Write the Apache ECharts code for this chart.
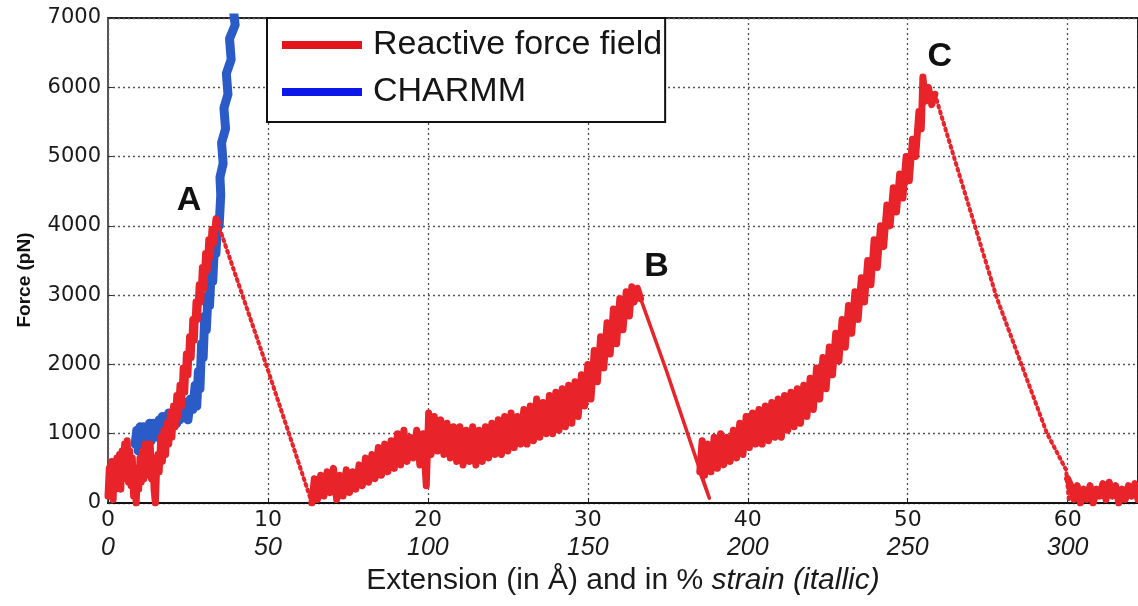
<!DOCTYPE html>
<html>
<head>
<meta charset="utf-8">
<script src="https://cdn.jsdelivr.net/npm/echarts@6/dist/echarts.min.js"></script>
<style>
html,body{margin:0;padding:0;background:#fff;}
#chart{width:1138px;height:606px;}
</style>
</head>
<body>
<div id="chart"></div>
<script>
// ---------------- DATA ----------------
var xTicks = [0, 10, 20, 30, 40, 50, 60];
var strainTicks = ['0', '50', '100', '150', '200', '250', '300'];
var yTicks = [0, 1000, 2000, 3000, 4000, 5000, 6000, 7000];

// Reactive force field: rise to peak A
var reactiveRiseA = [
  [0,100],[0.08,500],[0.16,150],[0.24,600],[0.32,50],[0.4,550],[0.48,200],[0.56,650],[0.64,250],[0.72,700],
  [0.8,200],[0.88,750],[0.96,350],[1.04,850],[1.12,400],[1.2,900],[1.28,300],[1.36,750],[1.44,250],[1.52,650],
  [1.6,100],[1.68,500],[1.76,0],[1.84,450],[1.92,200],[2.0,650],[2.08,300],[2.16,750],[2.24,350],[2.32,850],
  [2.4,400],[2.48,800],[2.56,450],[2.64,850],[2.72,350],[2.8,650],[2.88,200],[2.96,0],[3.04,500],[3.12,700],
  [3.2,450],[3.3,950],[3.4,600],[3.5,1050],[3.6,700],[3.7,1150],[3.8,850],[3.9,1300],[4.0,950],[4.1,1400],
  [4.2,1100],[4.3,1550],[4.4,1250],[4.5,1700],[4.6,1400],[4.7,1950],[4.8,1600],[4.9,2150],[5.0,1850],[5.1,2400],
  [5.2,2100],[5.3,2650],[5.4,2350],[5.5,2900],[5.6,2650],[5.7,3150],[5.8,2900],[5.9,3400],[6.0,3100],[6.1,3600],
  [6.2,3350],[6.3,3800],[6.4,3550],[6.5,3950],[6.6,3750],[6.75,4100],[6.85,4050]
];
// rupture after A (sparse, dotted)
var reactiveDropA = [[6.85,4050],[9.94,1960],[12.75,0]];
// plateau and rise to peak B
var reactiveRiseB = [
  [12.75,0],[12.9,350],[13.1,50],[13.3,400],[13.5,100],[13.7,450],[13.9,150],[14.1,500],[14.3,50],[14.5,400],
  [14.7,100],[14.9,480],[15.1,150],[15.3,450],[15.5,200],[15.7,550],[15.9,250],[16.1,650],[16.3,300],[16.5,700],
  [16.7,350],[16.9,800],[17.1,400],[17.3,850],[17.5,450],[17.7,900],[17.9,500],[18.1,1000],[18.3,550],[18.5,1050],
  [18.7,600],[18.9,950],[19.1,650],[19.3,1050],[19.5,550],[19.7,1000],[19.9,250],[20.05,1300],[20.2,700],[20.4,1250],
  [20.6,750],[20.8,1200],[21.0,700],[21.2,1150],[21.4,650],[21.6,1100],[21.8,600],[22.0,1100],[22.2,550],[22.4,1050],
  [22.6,600],[22.8,1100],[23.0,550],[23.2,1050],[23.4,600],[23.6,1100],[23.8,650],[24.0,1150],[24.2,700],[24.4,1200],
  [24.6,700],[24.8,1250],[25.0,750],[25.2,1300],[25.4,800],[25.6,1250],[25.8,850],[26.0,1350],[26.2,850],[26.4,1400],
  [26.6,900],[26.8,1500],[27.0,950],[27.2,1450],[27.4,1000],[27.6,1550],[27.8,1000],[28.0,1600],[28.2,1050],[28.4,1650],
  [28.6,1100],[28.8,1700],[29.0,1150],[29.2,1750],[29.4,1250],[29.6,1850],[29.8,1400],[30.0,2000],[30.2,1500],[30.4,2200],
  [30.6,1750],[30.8,2400],[31.0,1950],[31.2,2600],[31.4,2150],[31.6,2800],[31.8,2300],[32.0,2950],[32.2,2500],[32.4,3050],
  [32.6,2700],[32.75,3120],[32.9,2900],[33.1,3100],[33.3,2950]
];
// rupture after B (solid)
var reactiveDropB = [[33.3,2950],[34.9,1920],[37.6,70],[37.0,450]];
// rise to peak C
var reactiveRiseC = [
  [37.0,450],[37.15,900],[37.3,400],[37.5,850],[37.7,450],[37.9,950],[38.1,500],[38.3,1000],[38.5,550],[38.7,950],
  [38.9,600],[39.1,1050],[39.3,650],[39.5,1150],[39.7,700],[39.9,1250],[40.1,800],[40.3,1300],[40.5,850],[40.7,1350],
  [40.9,850],[41.1,1400],[41.3,900],[41.5,1450],[41.7,950],[41.9,1500],[42.1,950],[42.3,1550],[42.5,1050],[42.7,1600],
  [42.9,1100],[43.1,1650],[43.3,1150],[43.5,1700],[43.7,1250],[43.9,1800],[44.1,1350],[44.3,1950],[44.5,1500],[44.7,2100],
  [44.9,1650],[45.1,2250],[45.3,1850],[45.5,2450],[45.7,2050],[45.9,2650],[46.1,2250],[46.3,2850],[46.5,2450],[46.7,3050],
  [46.9,2650],[47.1,3250],[47.3,2900],[47.5,3500],[47.7,3150],[47.9,3800],[48.1,3400],[48.3,4000],[48.5,3700],[48.7,4300],
  [48.9,4000],[49.1,4550],[49.3,4200],[49.5,4750],[49.7,4400],[49.9,5000],[50.1,4650],[50.3,5250],[50.5,5000],[50.7,5650],
  [50.85,5400],[50.95,6150],[51.1,5800],[51.3,6000],[51.5,5750],[51.7,5900]
];
// rupture after C (sparse, dotted)
var reactiveDropC = [[51.7,5900],[55.55,2975],[58.7,1010],[59.9,480],[60.1,0]];
// tail after C
var reactiveTail = [
  [60.0,350],[60.2,250],[60.4,50],[60.6,250],[60.8,0],[61.0,200],[61.2,50],[61.4,250],[61.6,0],[61.8,200],
  [62.0,100],[62.2,280],[62.4,50],[62.6,300],[62.8,100],[63.0,250],[63.2,0],[63.4,200],[63.6,50],[63.8,250],
  [64.0,100],[64.2,280],[64.4,50]
];
// CHARMM
var charmm = [
  [1.7,850],[1.8,1050],[1.9,750],[2.0,1100],[2.1,800],[2.2,1100],[2.3,850],[2.4,1100],[2.5,900],[2.6,1150],
  [2.7,900],[2.8,1150],[2.9,950],[3.0,1100],[3.1,950],[3.2,1200],[3.3,1000],[3.4,1250],[3.5,1050],[3.6,1250],
  [3.7,1050],[3.8,1300],[3.9,1100],[4.0,1300],[4.1,1150],[4.2,1350],[4.3,1150],[4.4,1400],[4.5,1200],[4.6,1400],
  [4.7,1250],[4.85,1450],[5.0,1200],[5.15,1500],[5.3,1350],[5.45,1700],[5.55,1400],[5.65,1900],[5.75,1650],[5.85,2300],
  [5.95,2100],[6.05,2700],[6.15,2500],[6.25,3000],[6.35,2850],[6.45,3350],[6.55,3200],[6.65,3700],[6.75,3600],[6.85,4100],
  [6.95,4000],[7.05,4450],[7.0,4700],[7.2,4900],[7.1,5200],[7.35,5400],[7.25,5700],[7.5,5900],[7.4,6200],[7.7,6400],
  [7.6,6700],[7.95,6900],[7.85,7100],[8.2,7300]
];
// peak annotations
var peakNames = ['A', 'B', 'C'];
var peakX = [5.06, 34.3, 52.0];
var peakY = [4360, 3410, 6440];

// ---------------- CHART ----------------
var RED = '#e8232a';
var BLUE = '#2a5bc6';
var chart = echarts.init(document.getElementById('chart'), null, {renderer: 'canvas'});

function redSeries(data, width, type) {
  return {
    name: 'Reactive force field', type: 'line', data: data, showSymbol: false, symbol: 'none',
    animation: false, z: 3,
    itemStyle: {color: RED},
    lineStyle: {color: RED, width: width, type: type, cap: 'round', join: 'round'}
  };
}

var option = {
  animation: false,
  backgroundColor: '#ffffff',
  grid: {left: 108, right: 0, top: 18, bottom: 103, show: true, borderColor: '#222', borderWidth: 2, backgroundColor: 'transparent'},
  legend: {
    orient: 'vertical', left: 267, top: 18,
    data: [
      {name: 'Reactive force field', itemStyle: {color: '#e3141b'}},
      {name: 'CHARMM', itemStyle: {color: '#0b18e8'}}
    ],
    icon: 'rect', itemWidth: 80, itemHeight: 8, itemGap: 11,
    padding: [9, 3, 12, 15],
    backgroundColor: '#ffffff', borderColor: '#111', borderWidth: 2,
    textStyle: {fontFamily: 'Liberation Sans, Arial, sans-serif', fontSize: 34, color: '#151515', lineHeight: 36, padding: [0, 0, 0, 6]}
  },
  xAxis: {
    type: 'value', min: 0, max: 64.4, interval: 10,
    axisLine: {show: true, lineStyle: {color: '#111', width: 2}},
    axisTick: {show: true, inside: true, length: 5, lineStyle: {color: '#222'}},
    splitLine: {show: true, lineStyle: {color: '#555', type: [2, 3], width: 1.3}},
    axisLabel: {
      margin: 4, showMaxLabel: false,
      formatter: function (v) {
        var i = xTicks.indexOf(v);
        if (i < 0) return '';
        return '{a|' + xTicks[i] + '}\n{b|' + strainTicks[i] + '}';
      },
      rich: {
        a: {fontFamily: 'DejaVu Sans, sans-serif', fontSize: 22, color: '#1a1a1a', lineHeight: 27, align: 'center'},
        b: {fontFamily: 'Liberation Sans, Arial, sans-serif', fontSize: 25, fontStyle: 'italic', color: '#1a1a1a', lineHeight: 28, align: 'center'}
      }
    },
    name: '{n|Extension (in Å) and in % }{i|strain (itallic)}',
    nameLocation: 'middle', nameGap: 58,
    nameTextStyle: {
      rich: {
        n: {fontFamily: 'Liberation Sans, Arial, sans-serif', fontSize: 30, color: '#1a1a1a'},
        i: {fontFamily: 'Liberation Sans, Arial, sans-serif', fontSize: 30, fontStyle: 'italic', color: '#1a1a1a'}
      }
    }
  },
  yAxis: {
    type: 'value', min: 0, max: 7000, interval: 1000,
    axisLine: {show: true, lineStyle: {color: '#666', width: 1.5}},
    axisTick: {show: true, inside: true, length: 5, lineStyle: {color: '#333'}},
    splitLine: {show: true, lineStyle: {color: '#555', type: [2, 3], width: 1.3}},
    axisLabel: {
      margin: 7,
      formatter: function (v) { return yTicks.indexOf(v) >= 0 ? String(v) : ''; },
      fontFamily: 'DejaVu Sans, sans-serif', fontSize: 21, color: '#1a1a1a'
    }
  },
  series: [
    {
      name: 'CHARMM', type: 'line', data: charmm, showSymbol: false, symbol: 'none', z: 2,
      itemStyle: {color: BLUE},
      lineStyle: {color: BLUE, width: 9, join: 'round', cap: 'round'}
    },
    redSeries(reactiveRiseA, 7, 'solid'),
    redSeries(reactiveDropA, 4, [2, 4]),
    redSeries(reactiveRiseB, 7, 'solid'),
    redSeries(reactiveDropB, 3.5, 'solid'),
    redSeries(reactiveRiseC, 7, 'solid'),
    redSeries(reactiveDropC, 4, [2, 4]),
    redSeries(reactiveTail, 7, 'solid')
  ]
};
chart.setOption(option);

var gfx = [{
  type: 'text', x: 25, y: 280, rotation: Math.PI / 2,
  style: {text: 'Force (pN)', fontFamily: 'Liberation Sans, Arial, sans-serif', fontWeight: 'bold', fontSize: 19,
          fill: '#111', align: 'center', verticalAlign: 'middle'}
}];
for (var k = 0; k < peakNames.length; k++) {
  var p = chart.convertToPixel({gridIndex: 0}, [peakX[k], peakY[k]]);
  gfx.push({
    type: 'text', x: p[0], y: p[1], z: 10,
    style: {text: peakNames[k], fontFamily: 'Liberation Sans, Arial, sans-serif', fontWeight: 'bold', fontSize: 34,
            fill: '#111', align: 'center', verticalAlign: 'middle'}
  });
}
chart.setOption({graphic: gfx});
</script>
</body>
</html>
